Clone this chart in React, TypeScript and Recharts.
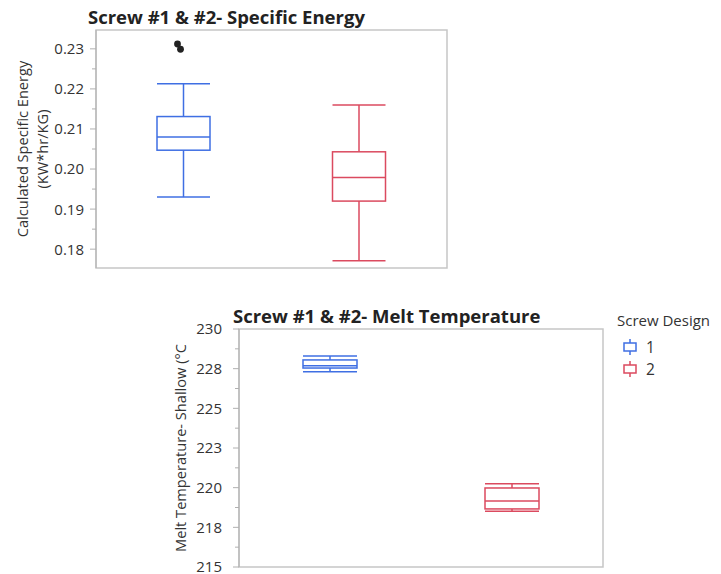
import React from 'react';
import { ComposedChart, Bar, XAxis, YAxis, ReferenceArea } from 'recharts';

// ---------- shared ----------
const designs = ['1', '2'];
const designColors = ['#3F6FE3', '#DB4A5F'];
const legendTitle = 'Screw Design';

// ---------- chart 1: Specific Energy ----------
const seTitle = 'Screw #1 & #2- Specific Energy';
const seAxisLines = ['Calculated Specific Energy', '(KW*hr/KG)'];
const seDomain = [0.1753, 0.2347];
const seLow = [0.193, 0.1771];
const seQ1 = [0.2047, 0.192];
const seMed = [0.208, 0.1979];
const seQ3 = [0.2131, 0.2043];
const seHigh = [0.2213, 0.216];
const seOutliers = [[0.2312, 0.2299], []];
const seMajorTicks = [0.18, 0.19, 0.2, 0.21, 0.22, 0.23];
const seMajorLabels = ['0.18', '0.19', '0.20', '0.21', '0.22', '0.23'];
const seMinorTicks = [0.185, 0.195, 0.205, 0.215, 0.225];

// ---------- chart 2: Melt Temperature ----------
const mtTitle = 'Screw #1 & #2- Melt Temperature';
const mtAxisLines = ['Melt Temperature- Shallow (°C'];
const mtDomain = [215, 230];
const mtLow = [227.31, 218.51];
const mtQ1 = [227.54, 218.66];
const mtMed = [227.69, 219.16];
const mtQ3 = [228.05, 219.98];
const mtHigh = [228.3, 220.25];
const mtOutliers = [[], []];
const mtMajorTicks = [215, 217.5, 220, 222.5, 225, 227.5, 230];
const mtMajorLabels = ['215', '218', '220', '223', '225', '228', '230'];
const mtMinorTicks = [216.25, 218.75, 221.25, 223.75, 226.25, 228.75];

const FONT = "'Open Sans', 'Noto Sans', sans-serif";
const TEXT = '#333333';
const FRAME = '#c6c6c6';
const AXIS = '#b0b0b0';

type Row = { design: string; range: number[]; q1: number; med: number; q3: number; outliers: number[] };

const buildRows = (low: number[], q1: number[], med: number[], q3: number[], high: number[], outs: number[][]): Row[] =>
  designs.map((d, i) => ({ design: d, range: [low[i], high[i]], q1: q1[i], med: med[i], q3: q3[i], outliers: outs[i] }));

const seRows = buildRows(seLow, seQ1, seMed, seQ3, seHigh, seOutliers);
const mtRows = buildRows(mtLow, mtQ1, mtMed, mtQ3, mtHigh, mtOutliers);

const BoxShape = (props: any) => {
  const { x, y, width, height, payload, index } = props;
  const color = designColors[index % designColors.length];
  const top = Math.min(y, y + height);
  const bottom = Math.max(y, y + height);
  const [lo, hi] = payload.range;
  const toY = (v: number) => bottom - ((v - lo) / (hi - lo)) * (bottom - top);
  const cx = x + width / 2;
  const x0 = x;
  const x1 = x + width;
  const yq1 = toY(payload.q1);
  const yq3 = toY(payload.q3);
  const ym = toY(payload.med);
  const sw = 1.5;
  return (
    <g>
      <line x1={cx} x2={cx} y1={top} y2={yq3} stroke={color} strokeWidth={sw} />
      <line x1={cx} x2={cx} y1={yq1} y2={bottom} stroke={color} strokeWidth={sw} />
      <line x1={x0} x2={x1} y1={top} y2={top} stroke={color} strokeWidth={sw} />
      <line x1={x0} x2={x1} y1={bottom} y2={bottom} stroke={color} strokeWidth={sw} />
      <rect x={x0} y={yq3} width={width} height={yq1 - yq3} fill="none" stroke={color} strokeWidth={sw} />
      <line x1={x0} x2={x1} y1={ym} y2={ym} stroke={color} strokeWidth={sw} />
      {payload.outliers.map((v: number, i: number) => (
        <circle key={i} cx={cx - 6 + i * 3} cy={toY(v)} r={3.4} fill="#222" />
      ))}
    </g>
  );
};

const makeTick = (majors: number[], labels: string[], gap: number) => (props: any) => {
  const { x, y, payload } = props;
  const v = payload.value;
  const idx = majors.findIndex((m) => Math.abs(m - v) < 1e-9);
  const isMajor = idx >= 0;
  return (
    <g>
      <line x1={x - (isMajor ? 6 : 4)} x2={x} y1={y} y2={y} stroke={AXIS} strokeWidth={1} />
      {isMajor && (
        <text x={x - gap} y={y} dy="0.36em" textAnchor="end" fontSize={15} fill={TEXT} fontFamily={FONT}>
          {labels[idx]}
        </text>
      )}
    </g>
  );
};

const makeAxisLabel = (lines: string[], firstX: number, lineGap: number) => (props: any) => {
  const vb = props.viewBox || {};
  const cy = (vb.y || 0) + (vb.height || 0) / 2;
  return (
    <g>
      {lines.map((t, i) => {
        const lx = (vb.x || 0) + firstX + i * lineGap;
        return (
          <text
            key={i}
            x={lx}
            y={cy}
            transform={`rotate(-90 ${lx} ${cy})`}
            textAnchor="middle"
            dominantBaseline="central"
            fontSize={14.6}
            fill={TEXT}
            fontFamily={FONT}
          >
            {t}
          </text>
        );
      })}
    </g>
  );
};

const BoxChart = (p: {
  rows: Row[];
  width: number;
  height: number;
  margin: any;
  axisWidth: number;
  domain: number[];
  majors: number[];
  labels: string[];
  minors: number[];
  axisLines: string[];
  labelX: number;
  tickGap: number;
  barSize: number;
}) => {
  const ticks = [...p.majors, ...p.minors].sort((a, b) => a - b);
  return (
    <ComposedChart width={p.width} height={p.height} data={p.rows} margin={p.margin} style={{ overflow: 'visible' }}>
      <XAxis dataKey="design" type="category" hide />
      <YAxis
        type="number"
        domain={p.domain}
        ticks={ticks}
        interval={0}
        width={p.axisWidth}
        tickSize={0}
        tickMargin={0}
        tickLine={false}
        axisLine={{ stroke: AXIS }}
        tick={makeTick(p.majors, p.labels, p.tickGap)}
        label={{ content: makeAxisLabel(p.axisLines, p.labelX, 20) }}
      />
      <ReferenceArea y1={p.domain[0]} y2={p.domain[1]} fill="none" stroke={FRAME} strokeWidth={1.5} />
      <Bar dataKey="range" barSize={p.barSize} shape={BoxShape} isAnimationActive={false} />
    </ComposedChart>
  );
};

const titleStyle: React.CSSProperties = {
  position: 'absolute',
  fontFamily: FONT,
  fontWeight: 700,
  fontSize: 18.5,
  lineHeight: '17px',
  color: '#222',
  whiteSpace: 'nowrap',
};

const Legend = () => (
  <svg width={111} height={80} style={{ position: 'absolute', left: 610, top: 305 }}>
    <text x={7} y={21} fontSize={15} fill={TEXT} fontFamily={FONT}>
      {legendTitle}
    </text>
    {designs.map((d, i) => {
      const cy = 42 + i * 22;
      const c = designColors[i];
      return (
        <g key={d}>
          <line x1={20} x2={20} y1={cy - 8} y2={cy + 8} stroke={c} strokeWidth={1.5} />
          <rect x={14} y={cy - 4} width={12} height={8} fill="#fff" stroke={c} strokeWidth={1.5} />
          <text x={36} y={cy + 5.5} fontSize={15.5} fill={TEXT} fontFamily={FONT}>
            {d}
          </text>
        </g>
      );
    })}
  </svg>
);

export default function App() {
  return (
    <div style={{ position: 'absolute', left: 0, top: 0, width: 721, height: 574, background: '#fff', overflow: 'hidden' }}>
      <div style={{ ...titleStyle, left: 88, top: 8 }}>{seTitle}</div>
      <div style={{ position: 'absolute', left: 0, top: 0 }}>
        <BoxChart
          rows={seRows}
          width={460}
          height={280}
          margin={{ top: 30, right: 13, bottom: 12, left: 0 }}
          axisWidth={96}
          domain={seDomain}
          majors={seMajorTicks}
          labels={seMajorLabels}
          minors={seMinorTicks}
          axisLines={seAxisLines}
          labelX={22}
          tickGap={12}
          barSize={53}
        />
      </div>
      <div style={{ ...titleStyle, left: 233, top: 307 }}>{mtTitle}</div>
      <div style={{ position: 'absolute', left: 160, top: 300 }}>
        <BoxChart
          rows={mtRows}
          width={450}
          height={274}
          margin={{ top: 29, right: 7, bottom: 7, left: 0 }}
          axisWidth={79}
          domain={mtDomain}
          majors={mtMajorTicks}
          labels={mtMajorLabels}
          minors={mtMinorTicks}
          axisLines={mtAxisLines}
          labelX={20}
          tickGap={17}
          barSize={54}
        />
      </div>
      <Legend />
    </div>
  );
}
